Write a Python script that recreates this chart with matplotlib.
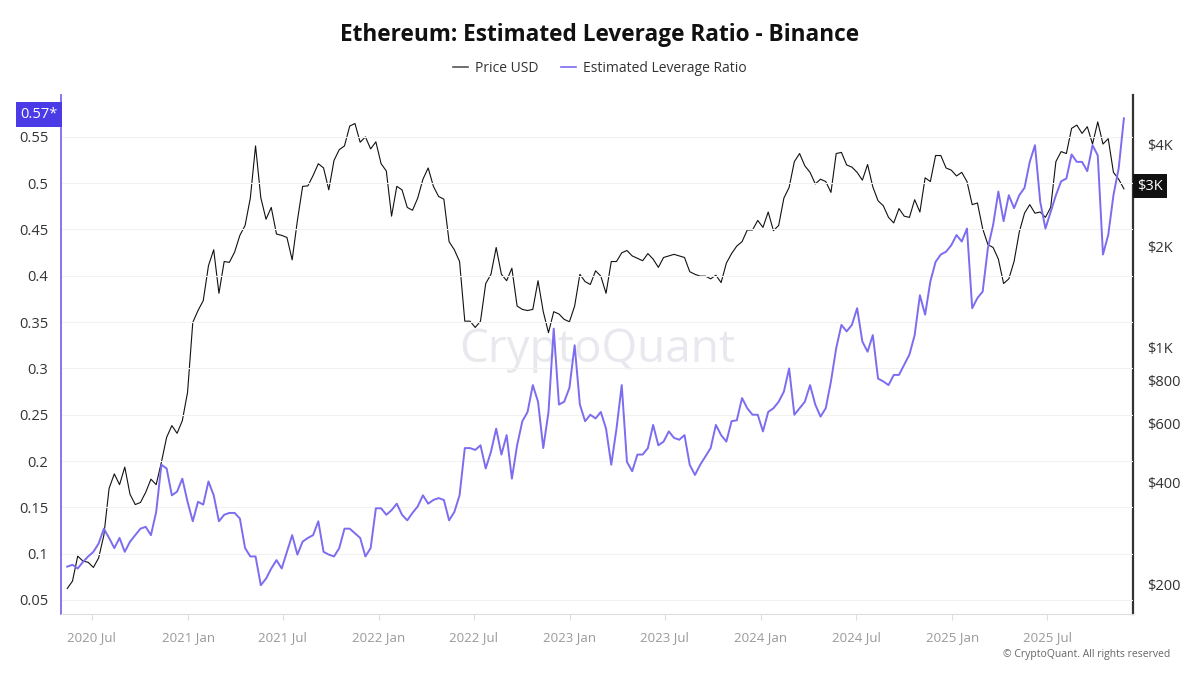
import matplotlib
matplotlib.use('Agg')
import matplotlib.pyplot as plt
import matplotlib.transforms as mtransforms
from matplotlib.lines import Line2D
import pandas as pd

plt.rcParams['font.family'] = ['Open Sans', 'DejaVu Sans']

# ETH price (USD), one value every 10 days from 2020-05-15
price_usd = [
    195, 205, 243, 235, 233, 225, 240, 280, 385, 425,
    395, 445, 370, 345, 350, 375, 410, 395, 460, 545,
    590, 560, 610, 740, 1190, 1290, 1380, 1750, 1950, 1450,
    1800, 1790, 1920, 2150, 2300, 2770, 3950, 2780, 2400, 2600,
    2170, 2150, 2120, 1820, 2380, 3000, 3010, 3230, 3500, 3400,
    2930, 3580, 3850, 3950, 4520, 4600, 4050, 4200, 3870, 4060,
    3500, 3330, 2450, 3000, 2930, 2600, 2550, 2770, 3150, 3400,
    3000, 2800, 2750, 2060, 1950, 1800, 1200, 1200, 1150, 1200,
    1550, 1650, 1980, 1650, 1580, 1720, 1330, 1300, 1290, 1300,
    1580, 1280, 1110, 1280, 1260, 1215, 1195, 1330, 1650, 1570,
    1540, 1690, 1630, 1450, 1800, 1800, 1910, 1940, 1870, 1840,
    1810, 1900, 1830, 1730, 1850, 1870, 1890, 1870, 1850, 1680,
    1650, 1630, 1630, 1600, 1640, 1560, 1780, 1900, 2000, 2060,
    2230, 2230, 2380, 2270, 2520, 2220, 2300, 2770, 2980, 3550,
    3750, 3450, 3300, 3050, 3150, 3100, 2880, 3750, 3780, 3470,
    3420, 3300, 3130, 3480, 2990, 2720, 2630, 2430, 2340, 2580,
    2450, 2430, 2740, 2520, 3180, 3100, 3700, 3700, 3400, 3350,
    3220, 3300, 3100, 2650, 2680, 2250, 2020, 1980, 1830, 1550,
    1600, 1800, 2200, 2500, 2650, 2500, 2520, 2430, 2600, 3550,
    3800, 3750, 4450, 4550, 4300, 4500, 4000, 4650, 4000, 4150,
    3300, 3150, 2950,
]

# Estimated leverage ratio, same dates
leverage_ratio = [
    0.086, 0.088, 0.084, 0.091, 0.097, 0.102, 0.111, 0.127, 0.117, 0.106,
    0.117, 0.102, 0.113, 0.120, 0.127, 0.129, 0.120, 0.145, 0.196, 0.192,
    0.163, 0.167, 0.181, 0.156, 0.135, 0.156, 0.153, 0.178, 0.163, 0.135,
    0.142, 0.144, 0.144, 0.138, 0.106, 0.097, 0.097, 0.066, 0.073, 0.084,
    0.093, 0.084, 0.102, 0.120, 0.099, 0.113, 0.117, 0.120, 0.135, 0.102,
    0.099, 0.097, 0.106, 0.127, 0.127, 0.122, 0.117, 0.097, 0.106, 0.149,
    0.149, 0.142, 0.147, 0.154, 0.142, 0.136, 0.144, 0.151, 0.163, 0.154,
    0.158, 0.160, 0.158, 0.136, 0.145, 0.163, 0.214, 0.214, 0.212, 0.217,
    0.192, 0.210, 0.235, 0.207, 0.228, 0.181, 0.217, 0.243, 0.253, 0.282,
    0.264, 0.214, 0.253, 0.343, 0.261, 0.264, 0.279, 0.325, 0.261, 0.243,
    0.250, 0.246, 0.253, 0.235, 0.196, 0.235, 0.282, 0.199, 0.189, 0.207,
    0.207, 0.214, 0.239, 0.217, 0.221, 0.232, 0.225, 0.223, 0.228, 0.196,
    0.185, 0.196, 0.205, 0.214, 0.239, 0.228, 0.221, 0.243, 0.244, 0.268,
    0.257, 0.250, 0.250, 0.232, 0.253, 0.257, 0.264, 0.275, 0.300, 0.250,
    0.257, 0.264, 0.282, 0.261, 0.248, 0.257, 0.286, 0.322, 0.347, 0.340,
    0.347, 0.365, 0.329, 0.318, 0.336, 0.289, 0.286, 0.282, 0.293, 0.293,
    0.304, 0.315, 0.336, 0.379, 0.358, 0.394, 0.415, 0.423, 0.426, 0.433,
    0.444, 0.437, 0.451, 0.365, 0.376, 0.383, 0.430, 0.455, 0.491, 0.459,
    0.487, 0.473, 0.487, 0.495, 0.523, 0.541, 0.480, 0.451, 0.469, 0.487,
    0.502, 0.505, 0.531, 0.523, 0.523, 0.513, 0.541, 0.530, 0.423, 0.444,
    0.487, 0.516, 0.570,
]

dates = pd.date_range('2020-05-15', periods=len(price_usd), freq='10D')

left_ticks = [0.05, 0.1, 0.15, 0.2, 0.25, 0.3, 0.35, 0.4, 0.45, 0.5, 0.55]
left_labels = ['0.05', '0.1', '0.15', '0.2', '0.25', '0.3', '0.35', '0.4', '0.45', '0.5', '0.55']
right_ticks = [200, 400, 600, 800, 1000, 2000, 4000]
right_labels = ['$200', '$400', '$600', '$800', '$1K', '$2K', '$4K']
x_ticks = pd.to_datetime(['2020-07-01', '2021-01-01', '2021-07-01', '2022-01-01', '2022-07-01',
                          '2023-01-01', '2023-07-01', '2024-01-01', '2024-07-01', '2025-01-01',
                          '2025-07-01'])
x_labels = ['2020 Jul', '2021 Jan', '2021 Jul', '2022 Jan', '2022 Jul', '2023 Jan',
            '2023 Jul', '2024 Jan', '2024 Jul', '2025 Jan', '2025 Jul']

PURPLE = '#7b6cf0'
BOX_PURPLE = '#4b3be6'

fig = plt.figure(figsize=(12, 6.75), dpi=100)
ax = fig.add_axes([0.0508, 0.0904, 0.8932, 0.7686])
ax2 = ax.twinx()

# price on the right log axis
ax2.plot(dates, price_usd, color='#111111', lw=0.8)
ax2.set_yscale('log')
ax2.set_ylim(164, 5576)
ax2.set_yticks(right_ticks)
ax2.set_yticklabels(right_labels)
ax2.minorticks_off()
ax2.tick_params(axis='y', length=0, pad=10, labelsize=10.5, labelcolor='#333333')

# leverage ratio on the left axis, drawn over the price line
ax.plot(dates, leverage_ratio, color=PURPLE, lw=1.4)
ax.set_ylim(0.0349, 0.595)
ax.set_yticks(left_ticks)
ax.set_yticklabels(left_labels)
ax.tick_params(axis='y', length=0, pad=9, labelsize=10.5, labelcolor='#333333')
ax.grid(axis='y', color='#f1f1f1', lw=0.8)
ax.set_axisbelow(True)
ax.set_zorder(ax2.get_zorder() + 1)
ax.patch.set_visible(False)
ax2.patch.set_visible(False)

ax.set_xlim(pd.Timestamp('2020-05-03'), pd.Timestamp('2025-12-12'))
ax.set_xticks(x_ticks)
ax.set_xticklabels(x_labels)
ax.tick_params(axis='x', length=4, color='#dddddd', pad=8, labelsize=9.5, labelcolor='#999999')

for a in (ax, ax2):
    a.spines['top'].set_visible(False)
ax.spines['right'].set_visible(False)
ax2.spines['left'].set_visible(False)
ax2.spines['bottom'].set_visible(False)
ax.spines['left'].set_color(PURPLE)
ax.spines['left'].set_linewidth(1.3)
ax.spines['bottom'].set_color('#dddddd')
ax2.spines['right'].set_color('#333333')
ax2.spines['right'].set_linewidth(1.6)

# last value markers
trans_l = mtransforms.blended_transform_factory(ax.transAxes, ax.transData)
ax.text(-0.003, 0.574, '0.57*', transform=trans_l, ha='right', va='center', fontsize=10.5,
        color='white', bbox=dict(boxstyle='square,pad=0.32', fc=BOX_PURPLE, ec='none'))
trans_r = mtransforms.blended_transform_factory(ax2.transAxes, ax2.transData)
ax2.text(1.004, 3000, '$3K', transform=trans_r, ha='left', va='center', fontsize=10.5,
         color='white', bbox=dict(boxstyle='square,pad=0.3', fc='#111111', ec='none'))

# watermark
fig.text(0.498, 0.482, 'CryptoQuant', ha='center', va='center', fontsize=33,
         color='#e8e8ee', zorder=-1)

fig.text(0.5, 0.948, 'Ethereum: Estimated Leverage Ratio - Binance', ha='center', va='center',
         fontsize=16.3, fontweight='bold', color='#111111')

handles = [Line2D([], [], color='#555555', lw=1.2), Line2D([], [], color=PURPLE, lw=1.2)]
fig.legend(handles, ['Price USD', 'Estimated Leverage Ratio'], loc='center', bbox_to_anchor=(0.5, 0.899),
           ncol=2, frameon=False, fontsize=10, handlelength=1.1, handletextpad=0.5, columnspacing=1.6,
           labelcolor='#333333')

fig.text(0.975, 0.03, '\u00a9 CryptoQuant. All rights reserved', ha='right', va='center',
         fontsize=7.5, color='#666666')

fig.savefig('out.png', dpi=100, facecolor='white')
